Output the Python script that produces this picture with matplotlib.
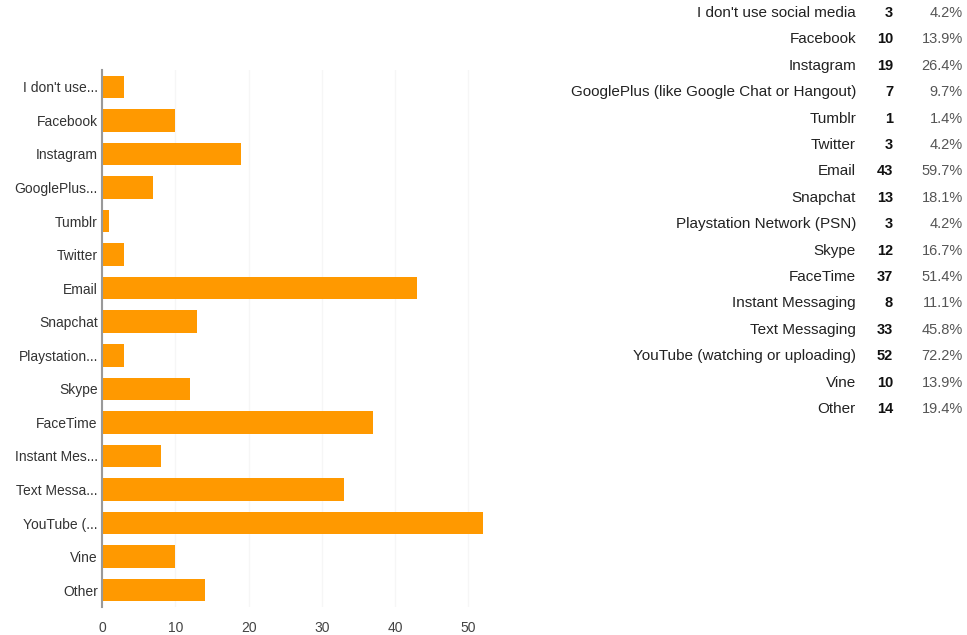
import matplotlib
matplotlib.use("Agg")
import matplotlib.pyplot as plt

plt.rcParams['font.family'] = ['Liberation Sans', 'DejaVu Sans']

short_labels = ["I don't use...", "Facebook", "Instagram", "GooglePlus...", "Tumblr", "Twitter",
                "Email", "Snapchat", "Playstation...", "Skype", "FaceTime", "Instant Mes...",
                "Text Messa...", "YouTube (...", "Vine", "Other"]
full_labels = ["I don't use social media", "Facebook", "Instagram",
               "GooglePlus (like Google Chat or Hangout)", "Tumblr", "Twitter", "Email",
               "Snapchat", "Playstation Network (PSN)", "Skype", "FaceTime",
               "Instant Messaging", "Text Messaging", "YouTube (watching or uploading)",
               "Vine", "Other"]
counts = [3, 10, 19, 7, 1, 3, 43, 13, 3, 12, 37, 8, 33, 52, 10, 14]
percents = ["4.2%", "13.9%", "26.4%", "9.7%", "1.4%", "4.2%", "59.7%", "18.1%", "4.2%",
            "16.7%", "51.4%", "11.1%", "45.8%", "72.2%", "13.9%", "19.4%"]
xticks = [0, 10, 20, 30, 40, 50]

W, H = 967, 635
fig = plt.figure(figsize=(W / 100, H / 100), dpi=100)
ax = fig.add_axes([102 / W, 1 - 607 / H, (500 - 102) / W, (607 - 70) / H])

y = list(range(len(counts)))
ax.barh(y, counts, height=0.67, color='#FF9900', zorder=2)
ax.set_ylim(len(counts) - 0.5, -0.5)
ax.set_xlim(0, 54.3)
ax.set_yticks(y)
ax.set_yticklabels(short_labels, fontsize=10, color='#333333')
ax.set_xticks(xticks)
ax.set_xticklabels([str(t) for t in xticks], fontsize=10, color='#444444')
ax.tick_params(axis='both', length=0)
ax.tick_params(axis='y', pad=3)
ax.tick_params(axis='x', pad=10)
for s in ['top', 'right', 'bottom']:
    ax.spines[s].set_visible(False)
ax.spines['left'].set_color('#999999')
ax.spines['left'].set_linewidth(1.5)
ax.spines['left'].set_zorder(3)
ax.grid(axis='x', color='#f6f6f6', linewidth=1, zorder=0)
ax.set_axisbelow(True)

# Table on the right
row0 = 13
step = (409 - 13) / 15
for i, (lab, c, p) in enumerate(zip(full_labels, counts, percents)):
    yy = 1 - (row0 + i * step) / H
    fig.text(856 / W, yy, lab, ha='right', va='center', fontsize=11, color='#222222')
    fig.text(893 / W, yy, str(c), ha='right', va='center', fontsize=10.5,
             fontweight='bold', color='#111111')
    fig.text(963 / W, yy, p, ha='right', va='center', fontsize=10.5, color='#555555')

fig.savefig('out.png', dpi=100)
